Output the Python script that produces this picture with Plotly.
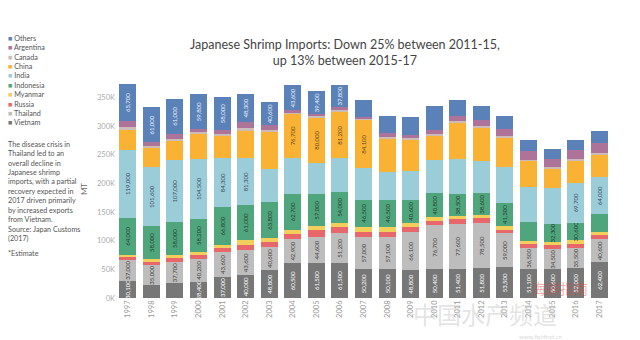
import plotly.graph_objects as go

years = [str(y) for y in range(1997, 2018)]

vietnam   = [30100, 22600, 25600, 28400, 37000, 40000, 48800, 60500, 61500, 61500, 50200, 50100, 48800, 50400, 51400, 51800, 53500, 51100, 50600, 52000, 62400]
thailand  = [37000, 35000, 37700, 40200, 43600, 43600, 40600, 42900, 44600, 51200, 57000, 57100, 66100, 76700, 77600, 78500, 59000, 36500, 34500, 35500, 40600]
russia    = [4000, 5000, 6000, 7000, 7000, 9000, 8000, 8700, 11700, 11500, 8700, 8700, 8700, 7500, 8500, 8500, 6800, 6800, 6800, 7500, 7300]
myanmar   = [4700, 5500, 5600, 4500, 4600, 8400, 6500, 7000, 7000, 7000, 8700, 8700, 7500, 7000, 5700, 5600, 5800, 5800, 5600, 5600, 5600]
indonesia = [64000, 58000, 58000, 58200, 66800, 61000, 63800, 62700, 57000, 54000, 46500, 46500, 40600, 40800, 38500, 38600, 41300, 32800, 32300, 30600, 30600]
india     = [119000, 101600, 107000, 104500, 84300, 81300, 58000, 62700, 53300, 58200, 55200, 49300, 50500, 58000, 60600, 56600, 62400, 60700, 62400, 69700, 64000]
china     = [34800, 33800, 35000, 43600, 40600, 49300, 63800, 76700, 80000, 81200, 84100, 58200, 54000, 43600, 63900, 58400, 51000, 45200, 34000, 39600, 39600]
canada    = [4000, 3000, 3000, 2500, 2500, 3000, 3000, 2000, 2000, 2500, 2000, 2500, 2500, 2500, 2500, 2500, 2500, 2500, 2500, 2500, 2500]
argentina = [10500, 6800, 8600, 6200, 6200, 11500, 8600, 3800, 3900, 6200, 3800, 6200, 6200, 6200, 8800, 9900, 12800, 14500, 13300, 14500, 17400]
others    = [65700, 61000, 61000, 59800, 58000, 48300, 40600, 43600, 39400, 37800, 29000, 30100, 30100, 41800, 28300, 23800, 22600, 18700, 18200, 18700, 21400]

ytick_vals = [0, 50000, 100000, 150000, 200000, 250000, 300000, 350000]
ytick_text = ["0K", "50K", "100K", "150K", "200K", "250K", "300K", "350K"]

# which years carry a data label, per series (as seen in the reference)
label_years = {
    "Vietnam": [y for y in years if y not in ("1998", "1999")],
    "Thailand": years,
    "Indonesia": [y for y in years if y not in ("2014", "2017")],
    "India": ["1997", "1998", "1999", "2000", "2001", "2002", "2016", "2017"],
    "China": ["2004", "2005", "2006", "2007"],
    "Others": [str(y) for y in range(1997, 2007)],
}

series = [
    ("Vietnam", vietnam, "#777777", "white"),
    ("Thailand", thailand, "#bdbdbd", "#444444"),
    ("Russia", russia, "#e8676a", "#444444"),
    ("Myanmar", myanmar, "#f2cf5b", "#444444"),
    ("Indonesia", indonesia, "#4fa67d", "#2b3b33"),
    ("India", india, "#9bcdd9", "#3b4a60"),
    ("China", china, "#f9b233", "#5a4a2a"),
    ("Canada", canada, "#cbbcb8", "#444444"),
    ("Argentina", argentina, "#ad7398", "#444444"),
    ("Others", others, "#5b82b8", "#e8eef8"),
]

W, H = 640, 340
ML, MR, MT_, MB = 116, 29, 80, 42
pw, ph = W - ML - MR, H - MT_ - MB

def px(x):
    return (x - ML) / pw

def py(y):
    return (H - MB - y) / ph

fig = go.Figure()
for name, vals, color, tcolor in series:
    shown = label_years.get(name, [])
    texts = [f"{v:,}" if y in shown else "" for y, v in zip(years, vals)]
    fig.add_trace(go.Bar(
        x=years, y=vals, name=name, marker_color=color, marker_line_width=0,
        text=texts, textposition="inside", textangle=-90,
        insidetextanchor="middle",
        textfont=dict(size=6, color=tcolor, family="Lato"),
        showlegend=False,
    ))

legend_lines = "<br>".join(
    f"<span style='color:{c}'>■</span> <span>{n}</span>" for n, _, c, _ in reversed(series)
)

annotations = [
    dict(text="Japanese Shrimp Imports: Down 25% between 2011-15,<br>up 13% between 2015-17",
         x=px(345), y=py(53), xref="paper", yref="paper", showarrow=False,
         xanchor="center", yanchor="middle", align="center",
         font=dict(size=12.5, color="#444444", family="Lato")),
    dict(text=legend_lines, x=px(6), y=py(32), xref="paper", yref="paper",
         showarrow=False, xanchor="left", yanchor="top", align="left",
         font=dict(size=7.2, color="#555555", family="Lato")),
    dict(text="The disease crisis in<br>Thailand led to an<br>overall decline in<br>Japanese shrimp<br>"
              "imports, with a partial<br>recovery expected in<br>2017 driven primarily<br>"
              "by increased exports<br>from Vietnam.",
         x=px(6), y=py(138), xref="paper", yref="paper", showarrow=False,
         xanchor="left", yanchor="top", align="left",
         font=dict(size=7.2, color="#555555", family="Lato")),
    dict(text="Source: Japan Customs<br>(2017)",
         x=px(6), y=py(223), xref="paper", yref="paper", showarrow=False,
         xanchor="left", yanchor="top", align="left",
         font=dict(size=7.2, color="#555555", family="Lato")),
    dict(text="*Estimate",
         x=px(6), y=py(247), xref="paper", yref="paper", showarrow=False,
         xanchor="left", yanchor="top", align="left",
         font=dict(size=7.2, color="#555555", family="Lato")),
    dict(text="海鲜指南", x=px(560), y=py(288), xref="paper", yref="paper",
         showarrow=False, xanchor="center", yanchor="middle",
         font=dict(size=14, color="rgba(215,70,70,0.45)", family="Noto Sans CJK SC")),
    dict(text="中国水产频道", x=px(485), y=py(313), xref="paper", yref="paper",
         showarrow=False, xanchor="center", yanchor="middle",
         font=dict(size=24, color="rgba(205,205,205,0.55)", family="Noto Sans CJK SC")),
    dict(text="www.fishfirst.cn", x=px(540), y=py(336), xref="paper", yref="paper",
         showarrow=False, xanchor="center", yanchor="middle",
         font=dict(size=6, color="rgba(190,190,190,0.6)", family="Lato")),
]

fig.update_layout(
    width=W, height=H, barmode="stack", bargap=0.28,
    margin=dict(l=ML, r=MR, t=MT_, b=MB),
    paper_bgcolor="white", plot_bgcolor="white",
    uniformtext=dict(minsize=6, mode="show"),
    showlegend=False,
    annotations=annotations,
    xaxis=dict(type="category", tickangle=-90, showgrid=False, showline=False,
               ticks="", tickfont=dict(size=7.5, color="#999999", family="Lato")),
    yaxis=dict(range=[0, 380000], tickvals=ytick_vals, ticktext=ytick_text,
               showgrid=False, zeroline=False, showline=False, ticks="",
               tickfont=dict(size=7.5, color="#aaaaaa", family="Lato"),
               title=dict(text="MT", font=dict(size=8, color="#666666", family="Lato"),
                          standoff=8)),
)

fig.write_html("out.html")
